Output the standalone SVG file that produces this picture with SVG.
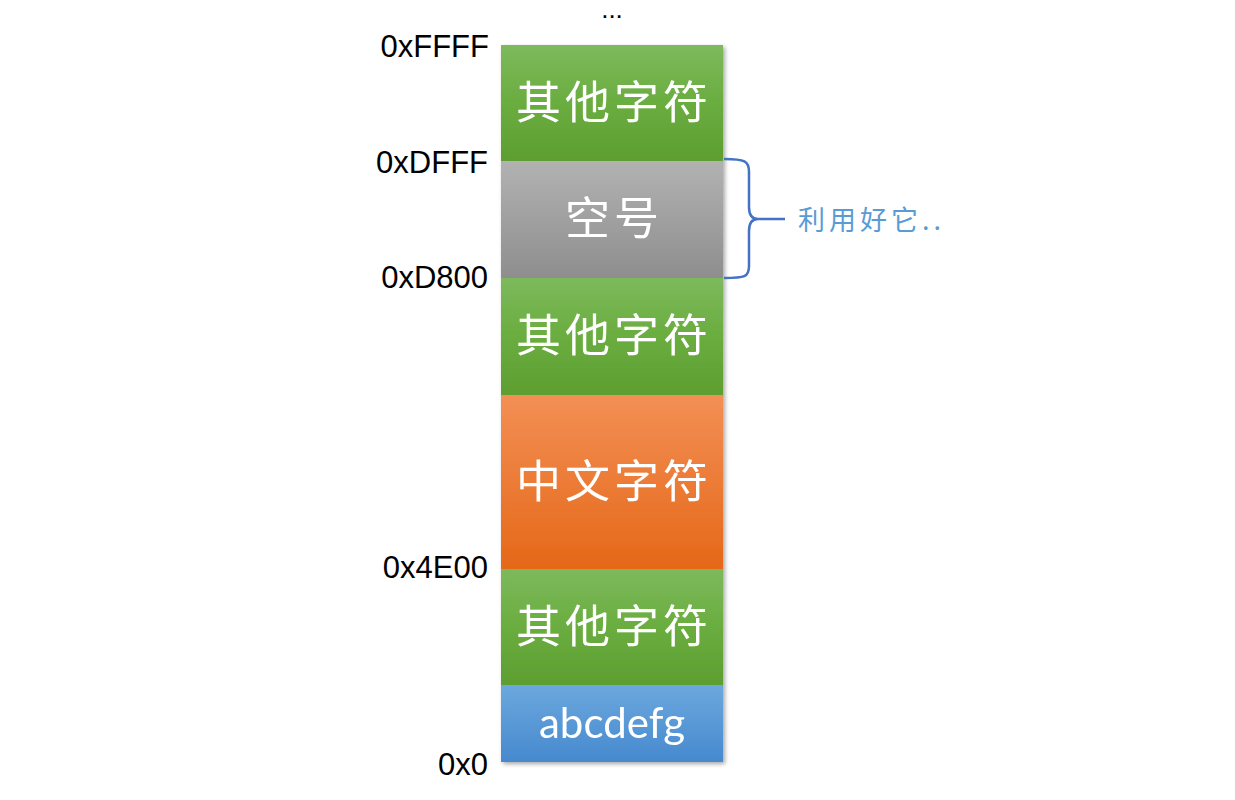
<svg xmlns="http://www.w3.org/2000/svg" width="1235" height="800" viewBox="0 0 1235 800">
<defs>
<linearGradient id="gGreen" x1="0" y1="0" x2="0" y2="1"><stop offset="0" stop-color="#7db95d"/><stop offset="0.5" stop-color="#6aad3f"/><stop offset="1" stop-color="#5e9e31"/></linearGradient>
<linearGradient id="gGrey" x1="0" y1="0" x2="0" y2="1"><stop offset="0" stop-color="#b2b2b2"/><stop offset="1" stop-color="#8e8e8e"/></linearGradient>
<linearGradient id="gOrange" x1="0" y1="0" x2="0" y2="1"><stop offset="0" stop-color="#f38f55"/><stop offset="1" stop-color="#e56818"/></linearGradient>
<linearGradient id="gBlue" x1="0" y1="0" x2="0" y2="1"><stop offset="0" stop-color="#6ca8de"/><stop offset="1" stop-color="#4689ce"/></linearGradient>
<filter id="sh" x="-10%" y="-10%" width="130%" height="130%"><feGaussianBlur in="SourceAlpha" stdDeviation="2"/><feOffset dx="2" dy="2"/><feComponentTransfer><feFuncA type="linear" slope="0.35"/></feComponentTransfer><feMerge><feMergeNode/><feMergeNode in="SourceGraphic"/></feMerge></filter>
</defs>
<style>
.addr{font-family:"Liberation Sans",Arial,sans-serif;font-size:31px;fill:#000;text-anchor:end}
.cjk{font-family:"Noto Sans CJK SC","Noto Sans CJK JP",sans-serif;font-size:45px;fill:#fff;text-anchor:middle;letter-spacing:4px}
.lat{font-family:"Lato","Open Sans",sans-serif;font-size:42px;fill:#fff;text-anchor:middle}
</style>
<rect width="1235" height="800" fill="#fff"/>
<text x="612" y="18" font-family="Liberation Sans, sans-serif" font-size="26" text-anchor="middle">...</text>
<g id="column" filter="url(#sh)">
<g id="seg-other-top"><rect x="501" y="45" width="222" height="116" fill="url(#gGreen)"/><text class="cjk" x="614" y="119">其他字符</text></g>
<g id="seg-empty"><rect x="501" y="161" width="222" height="117" fill="url(#gGrey)"/><text class="cjk" x="614" y="235" letter-spacing="26">空号</text></g>
<g id="seg-other-mid"><rect x="501" y="278" width="222" height="117" fill="url(#gGreen)"/><text class="cjk" x="614" y="352">其他字符</text></g>
<g id="seg-chinese"><rect x="501" y="395" width="222" height="174" fill="url(#gOrange)"/><text class="cjk" x="614" y="498">中文字符</text></g>
<g id="seg-other-low"><rect x="501" y="569" width="222" height="116" fill="url(#gGreen)"/><text class="cjk" x="614" y="643">其他字符</text></g>
<g id="seg-ascii"><rect x="501" y="685" width="222" height="77" fill="url(#gBlue)"/><text class="lat" x="612" y="738">abcdefg</text></g>
</g>
<g id="addresses">
<text class="addr" x="489" y="57">0xFFFF</text>
<text class="addr" x="488" y="173">0xDFFF</text>
<text class="addr" x="488" y="288">0xD800</text>
<text class="addr" x="488" y="578">0x4E00</text>
<text class="addr" x="488" y="775">0x0</text>
</g>
<g id="connectors">
<path d="M724,159 C745,159 749,161 749,172 L749,207 C749,215 752,219 758,219 L785,219 M758,219 C752,219 749,223 749,231 L749,266 C749,277 745,278 724,278" fill="none" stroke="#4472c4" stroke-width="2.5"/>
</g>
<g id="note"><text x="798" y="230" font-family="Noto Sans CJK SC, sans-serif" font-size="27" fill="#5b9bd5" letter-spacing="4">利用好它..</text></g>
</svg>
